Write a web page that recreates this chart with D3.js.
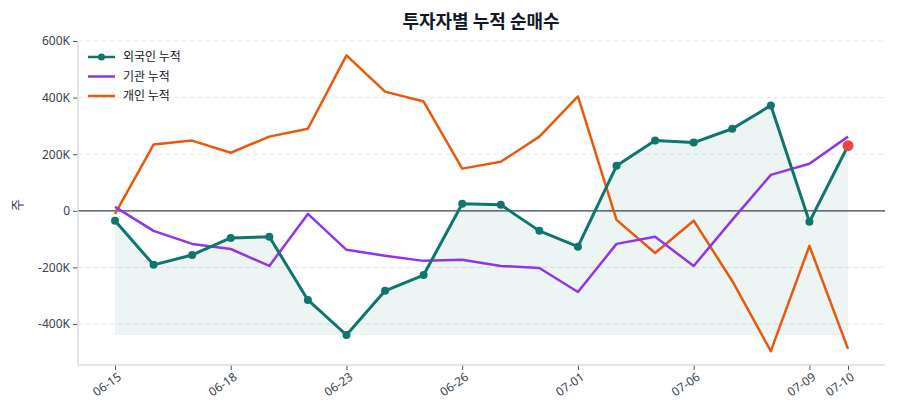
<!DOCTYPE html>
<html><head><meta charset="utf-8">
<script src="https://cdn.jsdelivr.net/npm/d3@7"></script>
<style>body{margin:0;background:#fff;font-family:"Noto Sans CJK KR","Noto Sans",sans-serif;}</style>
</head><body><svg id="c" width="900" height="420"></svg>
<script>
const dates = ["06-15","06-16","06-17","06-18","06-19","06-22","06-23","06-24","06-25","06-26","06-29","06-30","07-01","07-02","07-03","07-06","07-07","07-08","07-09","07-10"];
const foreign = [-35,-191,-156,-96,-92,-315,-439,-283,-227,25,21,-71,-127,159,248,241,290,372,-39,230].map(v=>v*1000);
const institution = [14,-71,-117,-135,-195,-11,-138,-159,-177,-173,-195,-202,-287,-117,-92,-195,-32,127,166,262].map(v=>v*1000);
const individual = [-11,234,248,205,262,290,549,421,386,149,173,262,404,-32,-149,-35,-248,-496,-124,-488].map(v=>v*1000);
const yTicks = [-400000,-200000,0,200000,400000,600000];
const xTickLabels = ["06-15","06-18","06-23","06-26","07-01","07-06","07-09","07-10"];
const seriesNames = ["외국인 누적","기관 누적","개인 누적"];
const colors = ["#0f766e","#9333ea","#ea580c"];

const svg = d3.select("#c");
const L=78,R=885,T=41,B=365;
const x = d3.scalePoint().domain(dates).range([115,848]);
const y = d3.scaleLinear().domain([-545000,600000]).range([B,T]);

// grid
svg.append("g").selectAll("line").data(yTicks.filter(d=>d!==0)).join("line")
  .attr("x1",L).attr("x2",R).attr("y1",d=>y(d)).attr("y2",d=>y(d))
  .attr("stroke","#e5e7eb").attr("stroke-dasharray","5,3").attr("stroke-width",1);

// area
const minF = d3.min(foreign);
svg.append("path").datum(foreign)
  .attr("d", d3.area().x((d,i)=>x(dates[i])).y0(y(minF)).y1(d=>y(d)))
  .attr("fill","#0f766e").attr("fill-opacity",0.08);

// zero line
svg.append("line").attr("x1",L).attr("x2",R).attr("y1",y(0)).attr("y2",y(0))
  .attr("stroke","#374151").attr("stroke-width",1.2);

// axes
const yAxis = svg.append("g").attr("transform",`translate(${L},0)`)
  .call(d3.axisLeft(y).tickValues(yTicks).tickSize(5).tickFormat(d=>d===0?"0":(d/1000)+"K"));
yAxis.select(".domain").remove();
yAxis.selectAll(".tick line").attr("stroke","#4b5563");
yAxis.selectAll("text").attr("fill","#374151").style("font-size","12px").style("font-family","'Noto Sans','Noto Sans CJK KR',sans-serif");
svg.append("line").attr("x1",L).attr("x2",L).attr("y1",T).attr("y2",B).attr("stroke","#d9dde3").attr("stroke-width",1.5);

const xAxis = svg.append("g").attr("transform",`translate(0,${B})`)
  .call(d3.axisBottom(x).tickValues(xTickLabels).tickSize(5));
xAxis.select(".domain").remove();
xAxis.selectAll(".tick line").attr("stroke","#4b5563");
xAxis.selectAll("text").attr("fill","#374151").style("font-size","12px").style("font-family","'Noto Sans','Noto Sans CJK KR',sans-serif")
  .attr("text-anchor","end").attr("dx","-0.2em").attr("dy","0.6em").attr("transform","rotate(-35)");
svg.append("line").attr("x1",L).attr("x2",R).attr("y1",B).attr("y2",B).attr("stroke","#d9dde3").attr("stroke-width",1.5);

// lines
const line = d3.line().x((d,i)=>x(dates[i])).y(d=>y(d));
[individual, institution].forEach((s,k)=>{
  svg.append("path").datum(s).attr("d",line).attr("fill","none")
    .attr("stroke", k===0?colors[2]:colors[1]).attr("stroke-width",2.5).attr("stroke-linejoin","round");
});
svg.append("path").datum(foreign).attr("d",line).attr("fill","none")
  .attr("stroke",colors[0]).attr("stroke-width",3).attr("stroke-linejoin","round");
svg.append("g").selectAll("circle").data(foreign.slice(0,-1)).join("circle")
  .attr("cx",(d,i)=>x(dates[i])).attr("cy",d=>y(d)).attr("r",4).attr("fill",colors[0]);
svg.append("circle").attr("cx",x(dates[dates.length-1])).attr("cy",y(foreign[foreign.length-1])).attr("r",5.5).attr("fill","#ef4444");

// legend
const lg = svg.append("g");
seriesNames.forEach((n,i)=>{
  const yy = 57 + i*19.5;
  lg.append("line").attr("x1",88).attr("x2",115).attr("y1",yy).attr("y2",yy).attr("stroke",colors[i]).attr("stroke-width",2.5);
  if(i===0) lg.append("circle").attr("cx",101.5).attr("cy",yy).attr("r",3.5).attr("fill",colors[0]);
  lg.append("text").attr("x",123).attr("y",yy).attr("dy","0.35em").text(n)
    .attr("fill","#111827").style("font-size","12px");
});

// title
svg.append("text").attr("x",481).attr("y",28).attr("text-anchor","middle").text("투자자별 누적 순매수")
  .attr("fill","#111827").style("font-size","18px").style("font-weight","bold");
// y label
svg.append("text").attr("transform","translate(22,205) rotate(-90)").attr("text-anchor","middle").text("주")
  .attr("fill","#374151").style("font-size","13px");
</script></body></html>
